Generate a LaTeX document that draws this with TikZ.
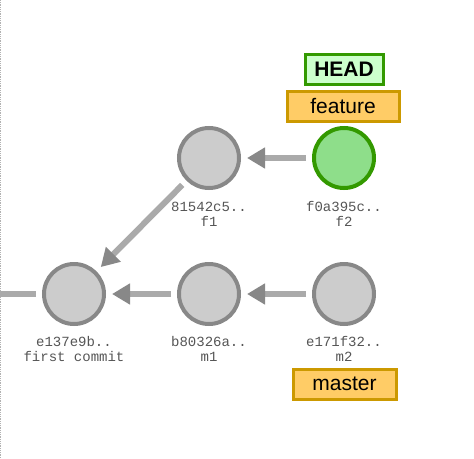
\documentclass[tikz,border=0pt]{standalone}
\usepackage{fontspec}
\setmainfont{Liberation Sans}
\newfontfamily\monofont{Liberation Mono}
\usetikzlibrary{arrows.meta}
\definecolor{cfill}{HTML}{CCCCCC}
\definecolor{cline}{HTML}{888888}
\definecolor{gfill}{HTML}{8EDE8A}
\definecolor{gline}{HTML}{339900}
\definecolor{hfill}{HTML}{CCFFCC}
\definecolor{bfill}{HTML}{FFCC66}
\definecolor{bline}{HTML}{CC9900}
\definecolor{edge}{HTML}{AAAAAA}
\definecolor{tip}{HTML}{888888}
\definecolor{lbl}{HTML}{555555}
\tikzset{
  commit/.style={circle, draw=cline, fill=cfill, line width=4pt, minimum size=60pt, inner sep=0pt},
  headcommit/.style={commit, draw=gline, fill=gfill},
  parent/.style={draw=edge, line width=6pt, shorten >=6pt, shorten <=6pt,
    -{Triangle[length=18pt, width=20pt, color=tip]}},
  clabel/.style={font=\monofont\fontsize{14}{15}\selectfont, text=lbl, align=center, inner sep=0pt},
  branch/.style={draw=bline, fill=bfill, line width=3pt, font=\fontsize{21}{24}\selectfont, inner sep=0pt, minimum height=30pt},
  headref/.style={draw=gline, fill=hfill, line width=3pt, font=\bfseries\fontsize{21}{24}\selectfont, inner sep=0pt, minimum height=30pt, minimum width=78pt}
}
\begin{document}
\begin{tikzpicture}[x=1pt, y=-1pt]
  \useasboundingbox (0,0) rectangle (474,458);
  % left border of the view
  \draw[densely dotted, draw=black!30, line width=0.8pt] (0.5,0) -- (0.5,458);

  % commits
  \node[commit] (c0) at (74,294) {};
  \node[commit] (m1) at (209,294) {};
  \node[commit] (m2) at (344,294) {};
  \node[commit] (f1) at (209,158) {};
  \node[headcommit] (f2) at (344,158) {};

  % commit labels
  \node[clabel] (lc0) at (74,349) {e137e9b..\\first commit};
  \node[clabel] (lm1) at (209,349) {b80326a..\\m1};
  \node[clabel] (lm2) at (344,349) {e171f32..\\m2};
  \node[clabel] (lf1) at (209,214) {81542c5..\\f1};
  \node[clabel] (lf2) at (344,214) {f0a395c..\\f2};

  % parent links
  \coordinate (older) at (0,294);
  \draw[draw=edge, line width=6pt, shorten >=6pt] (older) -- (c0);
  \draw[parent] (m1) -- (c0);
  \draw[parent] (m2) -- (m1);
  \draw[parent] (f1) -- (c0);
  \draw[parent] (f2) -- (f1);

  % refs
  \node[branch, minimum width=112pt] (feature) at (343,106.5) {feature};
  \node[headref] (head) at (344,69) {HEAD};
  \node[branch, minimum width=103pt] (master) at (344.5,384) {master};
\end{tikzpicture}
\end{document}
